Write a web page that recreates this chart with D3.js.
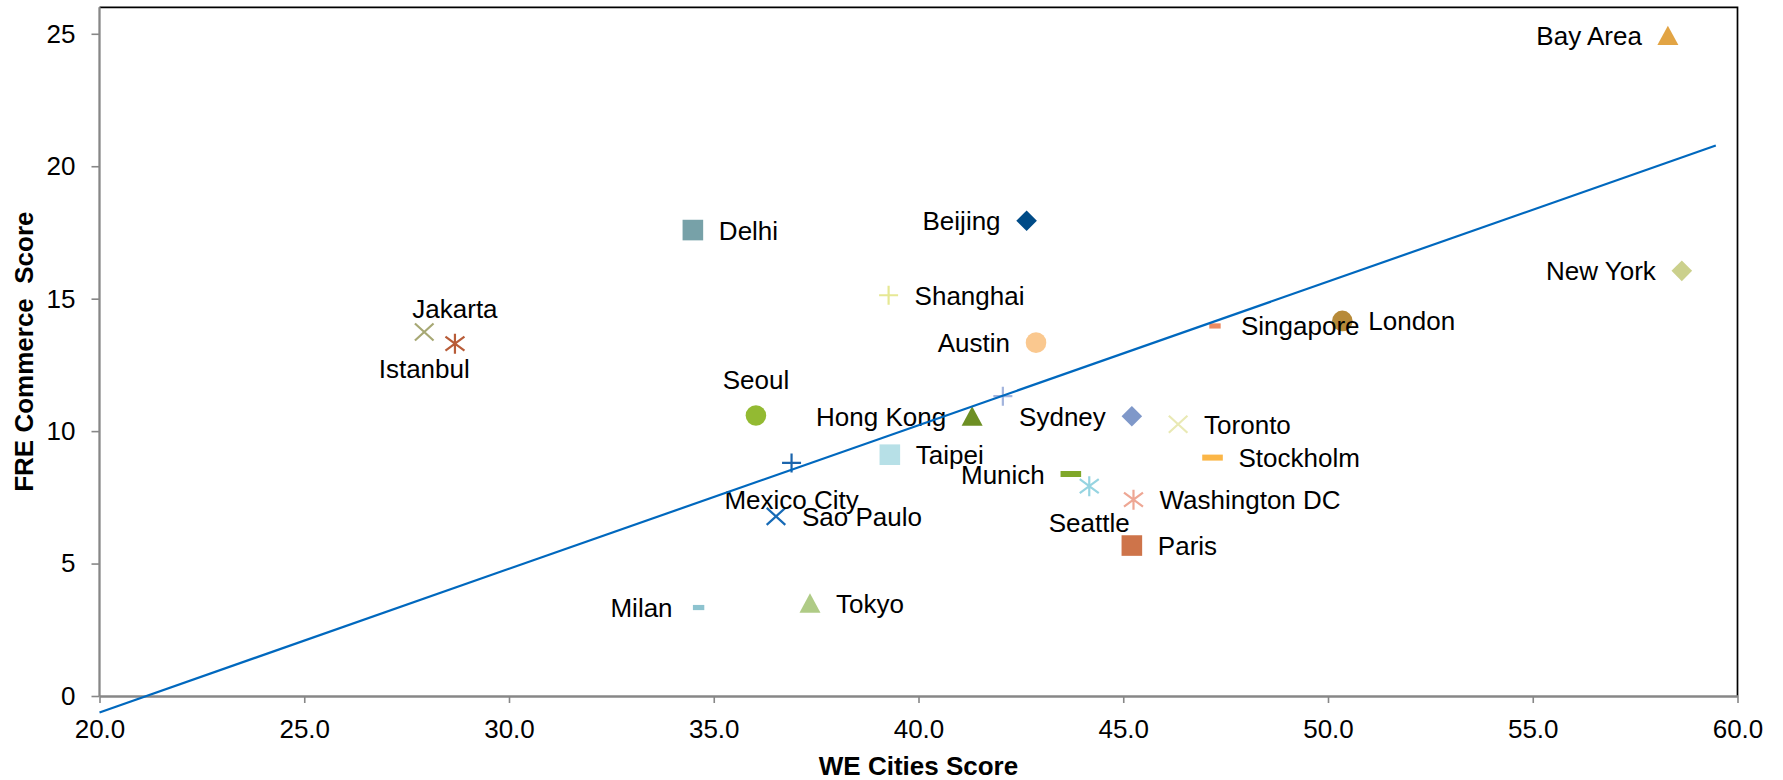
<!DOCTYPE html>
<html>
<head>
<meta charset="utf-8">
<script src="https://cdn.jsdelivr.net/npm/d3@7"></script>
<style>
  html, body { margin: 0; padding: 0; background: #ffffff; }
  svg { display: block; }
  text { font-family: "Liberation Sans", Arial, sans-serif; fill: #000; }
</style>
</head>
<body>
<svg id="chart" width="1783" height="780"></svg>
<script>
// ---- data ----
const cities = ["Bay Area", "New York", "London", "Singapore", "Austin", "Beijing", "Delhi",
  "Shanghai", "Istanbul", "Jakarta", "Seoul", "Hong Kong", "Average", "Sydney", "Toronto",
  "Taipei", "Mexico City", "Stockholm", "Munich", "Seattle", "Washington DC", "Sao Paulo",
  "Paris", "Milan", "Tokyo"];
const weCitiesScore = [58.30, 58.64, 50.35, 47.24, 42.87, 42.64, 34.49,
  39.27, 27.93, 28.68, 36.03, 41.31, 42.06, 45.21, 46.34,
  39.30, 36.90, 47.18, 43.72, 44.17, 45.25, 36.52,
  45.21, 34.63, 37.35];
const freCommerceScore = [24.94, 16.05, 14.16, 13.97, 13.34, 17.94, 17.59,
  15.13, 13.74, 13.30, 10.59, 10.57, 11.32, 10.56, 10.26,
  9.11, 8.80, 9.00, 8.38, 7.92, 7.41, 6.78,
  5.68, 3.34, 3.51];
const xTicks = [20, 25, 30, 35, 40, 45, 50, 55, 60];
const yTicks = [0, 5, 10, 15, 20, 25];
// linear trend line end points (WE score, FRE score)
const trendX = [20, 59.47];
const trendY = [-0.62, 20.78];
const xTitle = "WE Cities Score";
const yTitle = "FRE Commerce  Score";

// ---- marker styles and label placement ----
const markerStyle = {
  "Bay Area": ["triangle", "#E2A444"],
  "New York": ["diamond", "#CBD08C"],
  "London": ["circle", "#B78A38"],
  "Singapore": ["dashShort", "#EC8B62"],
  "Austin": ["circle", "#FAC88F"],
  "Beijing": ["diamond", "#004B87"],
  "Delhi": ["square", "#77A1A8"],
  "Shanghai": ["plus", "#E6E894"],
  "Istanbul": ["x", "#A7A874"],
  "Jakarta": ["asterisk", "#B85C38"],
  "Seoul": ["circle", "#93BA32"],
  "Hong Kong": ["triangle", "#6D8F23"],
  "Average": ["plus", "#A3B4DD"],
  "Sydney": ["diamond", "#7F98C9"],
  "Toronto": ["x", "#E9E9B4"],
  "Taipei": ["square", "#B7E0E7"],
  "Mexico City": ["plus", "#1A64AC"],
  "Stockholm": ["dashLong", "#FBB647"],
  "Munich": ["dashLong", "#80A82A"],
  "Seattle": ["asterisk", "#96D4E1"],
  "Washington DC": ["asterisk", "#EEA794"],
  "Sao Paulo": ["x", "#166AB6"],
  "Paris": ["square", "#CE744A"],
  "Milan": ["dashShort", "#8DC3CF"],
  "Tokyo": ["triangle", "#AFCB86"]
};
const labelSide = {
  "Bay Area": "left", "New York": "left", "London": "right", "Singapore": "right",
  "Austin": "left", "Beijing": "left", "Delhi": "right", "Shanghai": "right",
  "Istanbul": "below", "Jakarta": "above", "Seoul": "above", "Hong Kong": "left",
  "Average": "none", "Sydney": "left", "Toronto": "right", "Taipei": "right",
  "Mexico City": "below", "Stockholm": "right", "Munich": "left", "Seattle": "below",
  "Washington DC": "right", "Sao Paulo": "right", "Paris": "right", "Milan": "left",
  "Tokyo": "right"
};

// ---- layout ----
const W = 1783, H = 780;
const plot = { left: 99.5, right: 1737.5, top: 7.3, bottom: 696 };
const FONT = 26;
const axisGrey = "#878787";

const x = d3.scaleLinear().domain([20, 60]).range([plot.left, plot.right]);
const y = d3.scaleLinear().domain([0, 26]).range([plot.bottom, plot.top]);

const svg = d3.select("#chart");
svg.append("rect").attr("width", W).attr("height", H).attr("fill", "#fff");

// plot frame (top and right edges)
svg.append("path")
  .attr("d", `M${plot.left},${plot.top}H${plot.right}V${plot.bottom}`)
  .attr("fill", "none").attr("stroke", "#000").attr("stroke-width", 1.7);

// axes
const xAxis = svg.append("g")
  .attr("transform", `translate(0,${plot.bottom})`)
  .call(d3.axisBottom(x).tickValues(xTicks).tickFormat(d3.format(".1f"))
    .tickSize(7).tickSizeOuter(0).tickPadding(17));
const yAxis = svg.append("g")
  .attr("transform", `translate(${plot.left},0)`)
  .call(d3.axisLeft(y).tickValues(yTicks).tickFormat(d3.format("d"))
    .tickSize(8).tickSizeOuter(0).tickPadding(16));
[xAxis, yAxis].forEach(g => {
  g.select(".domain").attr("stroke", axisGrey).attr("stroke-width", 2.3);
  g.selectAll(".tick line").attr("stroke", axisGrey).attr("stroke-width", 1.6);
  g.selectAll(".tick text")
    .attr("fill", "#000")
    .style("font-family", '"Liberation Sans", Arial, sans-serif')
    .style("font-size", FONT + "px");
});
// left axis runs the full plot height
yAxis.select(".domain").attr("d", `M0,${plot.top}V${plot.bottom}`);

// axis titles
svg.append("text")
  .attr("x", (plot.left + plot.right) / 2).attr("y", 775)
  .attr("text-anchor", "middle")
  .style("font-size", FONT + "px").style("font-weight", "bold")
  .text(xTitle);
svg.append("text")
  .attr("transform", `translate(33,${(plot.top + plot.bottom) / 2}) rotate(-90)`)
  .attr("text-anchor", "middle")
  .style("font-size", FONT + "px").style("font-weight", "bold")
  .style("white-space", "pre")
  .text(yTitle);

// ---- markers ----
const shapes = {
  triangle: "M0,-9.7L10.5,9.7L-10.5,9.7Z",
  diamond: "M0,-10.3L10.3,0L0,10.3L-10.3,0Z",
  square: "M-10.3,-10.3H10.3V10.3H-10.3Z",
  dashLong: "M-10.3,-3H10.3V3H-10.3Z",
  dashShort: "M-5.7,-2.6H5.7V2.6H-5.7Z",
  plus: "M-9.5,0H9.5M0,-9.5V9.5",
  x: "M-9.3,-8.5L9.3,8.5M-9.3,8.5L9.3,-8.5",
  asterisk: "M-9.5,-7L9.5,7M-9.5,7L9.5,-7M0,-10V10"
};
const lineShapes = new Set(["plus", "x", "asterisk"]);

const points = cities.map((c, i) => ({ city: c, we: weCitiesScore[i], fre: freCommerceScore[i] }));

const marks = svg.append("g").selectAll("g").data(points).join("g")
  .attr("transform", d => `translate(${x(d.we)},${y(d.fre)})`);
marks.each(function (d) {
  const [shape, color] = markerStyle[d.city];
  const g = d3.select(this);
  if (shape === "circle") {
    g.append("circle").attr("r", 10.3).attr("fill", color);
  } else if (lineShapes.has(shape)) {
    g.append("path").attr("d", shapes[shape]).attr("fill", "none")
      .attr("stroke", color).attr("stroke-width", 2.2);
  } else {
    g.append("path").attr("d", shapes[shape]).attr("fill", color);
  }
});

// ---- data labels ----
svg.append("g").selectAll("text")
  .data(points.filter(d => labelSide[d.city] !== "none")).join("text")
  .style("font-size", FONT + "px")
  .each(function (d) {
    const side = labelSide[d.city];
    const cx = x(d.we), cy = y(d.fre);
    const t = d3.select(this).text(d.city);
    if (side === "right") t.attr("x", cx + 26).attr("y", cy + 9.5).attr("text-anchor", "start");
    else if (side === "left") t.attr("x", cx - 26).attr("y", cy + 9.5).attr("text-anchor", "end");
    else if (side === "above") t.attr("x", cx).attr("y", cy - 26).attr("text-anchor", "middle");
    else t.attr("x", cx).attr("y", cy + 46).attr("text-anchor", "middle");
  });

// ---- trend line ----
svg.append("line")
  .attr("x1", x(trendX[0])).attr("y1", y(trendY[0]))
  .attr("x2", x(trendX[1])).attr("y2", y(trendY[1]))
  .attr("stroke", "#0068BE").attr("stroke-width", 2.2);
</script>
</body>
</html>
